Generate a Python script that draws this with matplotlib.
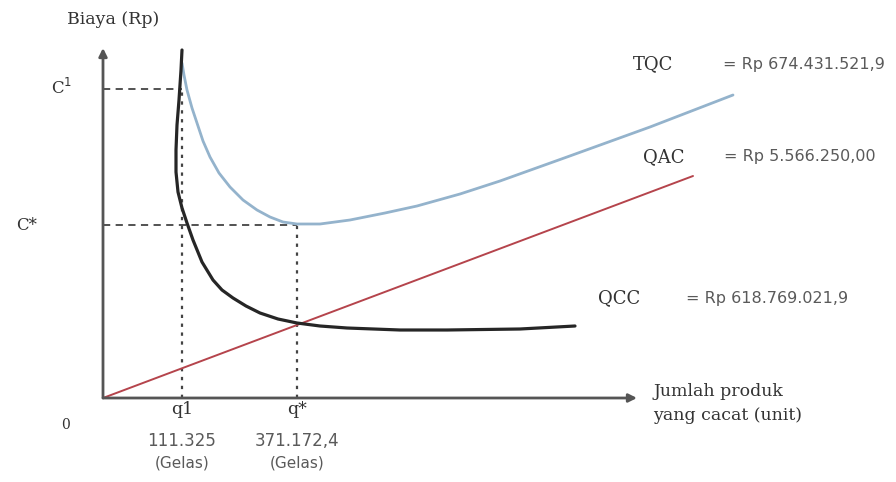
import matplotlib
matplotlib.use("Agg")
import matplotlib.pyplot as plt

# Schematic coordinates (units from the origin of the diagram)
# QCC curve (black)
qcc_x = [79, 78, 76, 74, 73, 73, 75, 79, 84, 90, 99, 110, 119, 130, 143, 157, 175, 194, 217, 244, 297, 344, 417, 472]
qcc_y = [348, 328, 298, 273, 248, 226, 206, 190, 175, 158, 136, 118, 108, 100, 92, 85, 79, 75, 72, 70, 68, 68, 69, 72]
# TQC curve (light blue)
tqc_x = [79, 81, 84, 89, 94, 100, 107, 116, 127, 140, 154, 167, 180, 194, 217, 247, 282, 314, 357, 397, 464, 547, 630]
tqc_y = [335, 323, 308, 290, 275, 257, 241, 225, 211, 198, 188, 181, 176, 174, 174, 178, 185, 192, 204, 217, 241, 271, 303]
# QAC line (red)
qac_x = [0, 590]
qac_y = [0, 222]

# Optimum markers
q1_x, q1_c = 79, 309
qs_x, qs_c = 194, 173

# Labels
q_labels = ["q1", "q*"]
q_values = ["111.325", "371.172,4"]
q_units = ["(Gelas)", "(Gelas)"]
cost_names = ["TQC", "QAC", "QCC"]
cost_values = ["= Rp 674.431.521,9", "= Rp 5.566.250,00", "= Rp 618.769.021,9"]

fig = plt.figure(figsize=(8.96, 4.82), dpi=100)
ax = fig.add_axes([0, 0, 1, 1])
ax.set_xlim(-103, 793)
ax.set_ylim(-84, 398)
ax.axis("off")

serif = "DejaVu Serif"
sans = "DejaVu Sans"
axis_col = "#555555"

# axes with arrows
ax.annotate("", xy=(0, 350), xytext=(0, 0),
            arrowprops=dict(arrowstyle="-|>", color=axis_col, lw=2, mutation_scale=12, shrinkA=0, shrinkB=0))
ax.annotate("", xy=(534, 0), xytext=(0, 0),
            arrowprops=dict(arrowstyle="-|>", color=axis_col, lw=2, mutation_scale=12, shrinkA=0, shrinkB=0))

# guide lines
dcol = "#444444"
ax.plot([0, q1_x], [q1_c, q1_c], ls=(0, (4, 3)), color=dcol, lw=1.3)
ax.plot([q1_x, q1_x], [0, q1_c], ls=(0, (1.5, 2.5)), color=dcol, lw=1.6)
ax.plot([0, qs_x], [qs_c, qs_c], ls=(0, (4, 3)), color=dcol, lw=1.3)
ax.plot([qs_x, qs_x], [0, qs_c], ls=(0, (1.5, 2.5)), color=dcol, lw=1.6)
ax.plot([0, 6], [qs_c, qs_c], color=axis_col, lw=1.2)

# curves
ax.plot(qac_x, qac_y, color="#b5444c", lw=1.4, solid_capstyle="round")
ax.plot(tqc_x, tqc_y, color="#94b3cc", lw=2.0, solid_capstyle="round", solid_joinstyle="round")
ax.plot(qcc_x, qcc_y, color="#262626", lw=2.3, solid_capstyle="round", solid_joinstyle="round")

tc = "#333333"
ax.text(-36, 379, "Biaya (Rp)", family=serif, fontsize=12.5, color=tc, ha="left", va="center")
ax.text(-41, 310, "C$^1$", family=serif, fontsize=12, color=tc, ha="center", va="center")
ax.text(-76, 172, "C*", family=serif, fontsize=12, color=tc, ha="center", va="center")
ax.text(-38, -27, "0", family=serif, fontsize=10, color=tc, ha="center", va="center")

for x, lab, val, unit in zip([q1_x, qs_x], q_labels, q_values, q_units):
    ax.text(x, -12, lab, family=serif, fontsize=12.5, color=tc, ha="center", va="center")
    ax.text(x, -43, val, family=sans, fontsize=12, color="#5a5a5a", ha="center", va="center")
    ax.text(x, -65, unit, family=sans, fontsize=11, color="#5a5a5a", ha="center", va="center")

ax.text(550, 7, "Jumlah produk", family=serif, fontsize=12.5, color=tc, ha="left", va="center")
ax.text(550, -18, "yang cacat (unit)", family=serif, fontsize=12.5, color=tc, ha="left", va="center")

name_pos = [(530, 334), (540, 241), (495, 100)]
val_pos = [(620, 334), (621, 241), (583, 100)]
for name, val, (nx, ny), (vx, vy) in zip(cost_names, cost_values, name_pos, val_pos):
    ax.text(nx, ny, name, family=serif, fontsize=13, color=tc, ha="left", va="center")
    ax.text(vx, vy, val, family=sans, fontsize=11.5, color="#5a5a5a", ha="left", va="center")

fig.savefig("out.png", dpi=100)
